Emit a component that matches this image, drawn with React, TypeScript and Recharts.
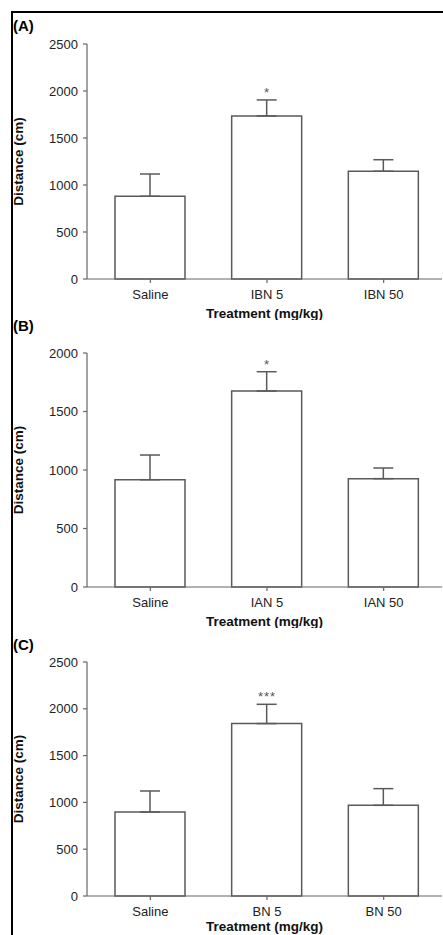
import React from 'react';
import {
  BarChart,
  Bar,
  XAxis,
  YAxis,
  ErrorBar,
  Label,
  ReferenceDot,
} from 'recharts';

// Panel A: IBN
const categoriesA = ['Saline', 'IBN 5', 'IBN 50'];
const meansA = [880, 1735, 1146];
const semA = [237, 170, 123];
const sigA = ['', '*', ''];
const ticksA = [0, 500, 1000, 1500, 2000, 2500];

// Panel B: IAN
const categoriesB = ['Saline', 'IAN 5', 'IAN 50'];
const meansB = [917, 1675, 926];
const semB = [211, 165, 91];
const sigB = ['', '*', ''];
const ticksB = [0, 500, 1000, 1500, 2000];

// Panel C: BN
const categoriesC = ['Saline', 'BN 5', 'BN 50'];
const meansC = [897, 1842, 969];
const semC = [225, 206, 178];
const sigC = ['', '***', ''];
const ticksC = [0, 500, 1000, 1500, 2000, 2500];

const FONT = '"Liberation Sans", Arial, sans-serif';
const AXIS = '#666';
const BAR_STROKE = '#5a5a5a';

interface PanelProps {
  tag: string;
  top: number;
  tagTop: number;
  plotHeight: number;
  xLabelOffset?: number;
  categories: string[];
  means: number[];
  sem: number[];
  sig: string[];
  ticks: number[];
}

function Panel({
  tag,
  top,
  tagTop,
  plotHeight,
  xLabelOffset = 0,
  categories,
  means,
  sem,
  sig,
  ticks,
}: PanelProps) {
  // 只画上侧误差
  const data = categories.map((name, i) => ({
    name,
    mean: means[i],
    err: [0, sem[i]],
  }));
  const marginTop = 24;
  const xAxisHeight = 39;

  return (
    <>
      <div
        style={{
          position: 'absolute',
          left: 13,
          top: tagTop,
          fontFamily: FONT,
          fontWeight: 700,
          fontSize: 15,
          lineHeight: '15px',
          color: '#000',
        }}
      >
        {tag}
      </div>
      <div style={{ position: 'absolute', left: 0, top }}>
        <BarChart
          width={443}
          height={marginTop + plotHeight + xAxisHeight + 2}
          data={data}
          margin={{ top: marginTop, right: 1, left: 0, bottom: 2 }}
          style={{ fontFamily: FONT }}
        >
          <XAxis
            dataKey="name"
            height={xAxisHeight}
            padding={{ left: 5, right: 0 }}
            tick={{ fontSize: 13, fill: '#222' }}
            tickLine={{ stroke: AXIS, strokeWidth: 1.2 }}
            axisLine={{ stroke: AXIS, strokeWidth: 1.2 }}
            tickSize={4}
            tickMargin={7}
          >
            <Label
              value="Treatment (mg/kg)"
              position="insideBottom"
              offset={xLabelOffset}
              style={{ fontSize: 13.5, fontWeight: 700, fill: '#111' }}
            />
          </XAxis>
          <YAxis
            width={87}
            domain={[ticks[0], ticks[ticks.length - 1]]}
            ticks={ticks}
            interval={0}
            tick={{ fontSize: 13, fill: '#222' }}
            tickLine={{ stroke: AXIS, strokeWidth: 1.2 }}
            axisLine={{ stroke: AXIS, strokeWidth: 1.2 }}
            tickSize={4}
            tickMargin={5}
          >
            <Label
              value="Distance (cm)"
              angle={-90}
              position="insideLeft"
              offset={18}
              style={{ fontSize: 13.5, fontWeight: 700, fill: '#111', textAnchor: 'middle' }}
            />
          </YAxis>
          <Bar
            dataKey="mean"
            barSize={70}
            fill="#fff"
            stroke={BAR_STROKE}
            strokeWidth={1.5}
            isAnimationActive={false}
          >
            <ErrorBar
              dataKey="err"
              width={10}
              stroke={BAR_STROKE}
              strokeWidth={1.5}
              direction="y"
              isAnimationActive={false}
            />
          </Bar>
          {categories.map((name, i) =>
            sig[i] ? (
              <ReferenceDot
                key={name}
                x={name}
                y={means[i] + sem[i]}
                r={0}
                stroke="none"
                fill="none"
                label={{
                  value: sig[i],
                  position: 'top',
                  offset: 3,
                  fill: '#555',
                  fontSize: 13,
                  letterSpacing: 1,
                }}
              />
            ) : null
          )}
        </BarChart>
      </div>
    </>
  );
}

export default function App() {
  return (
    <div
      style={{
        position: 'absolute',
        left: 0,
        top: 0,
        width: 443,
        height: 935,
        background: '#fff',
        overflow: 'hidden',
      }}
    >
      <div
        style={{
          position: 'absolute',
          left: 11,
          top: 11,
          width: 440,
          height: 930,
          borderLeft: '2px solid #000',
          borderTop: '2px solid #000',
        }}
      />
      <Panel
        tag="(A)"
        top={20}
        tagTop={17.5}
        plotHeight={235}
        categories={categoriesA}
        means={meansA}
        sem={semA}
        sig={sigA}
        ticks={ticksA}
      />
      <Panel
        tag="(B)"
        top={329.3}
        tagTop={317.6}
        plotHeight={234}
        categories={categoriesB}
        means={meansB}
        sem={semB}
        sig={sigB}
        ticks={ticksB}
      />
      <Panel
        tag="(C)"
        top={637.7}
        tagTop={636.8}
        plotHeight={234}
        xLabelOffset={4}
        categories={categoriesC}
        means={meansC}
        sem={semC}
        sig={sigC}
        ticks={ticksC}
      />
    </div>
  );
}
